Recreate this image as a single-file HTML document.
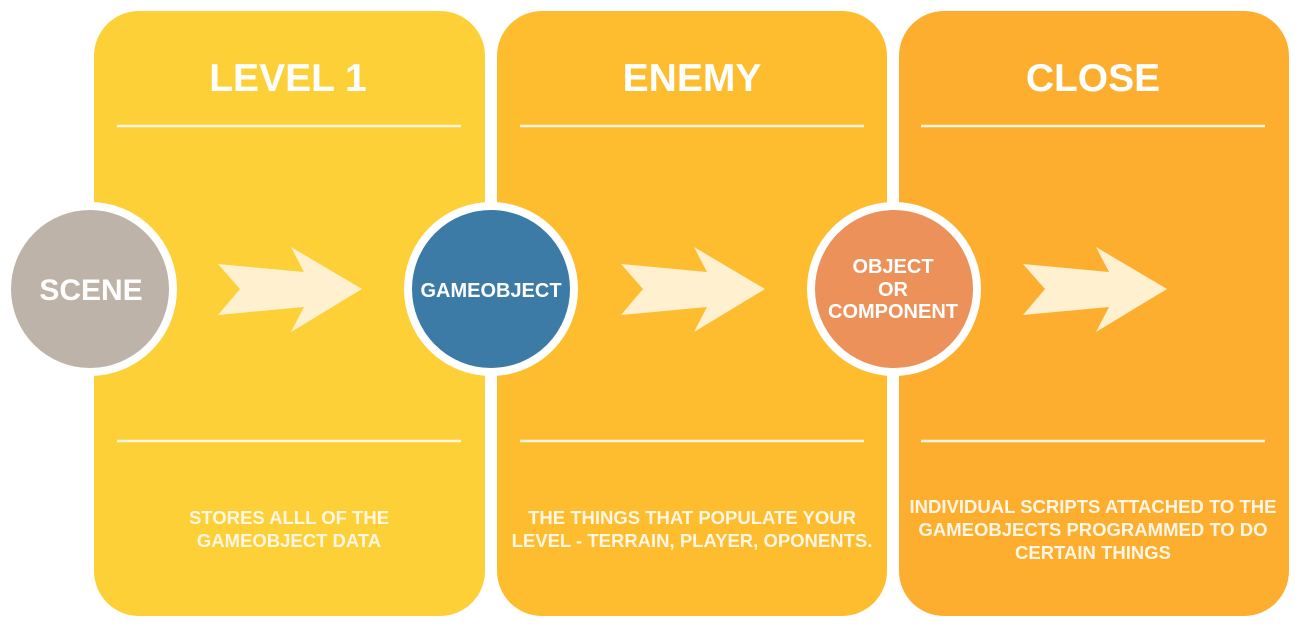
<!DOCTYPE html>
<html><head><meta charset="utf-8"><style>
html,body{margin:0;padding:0;background:#fff;}
svg{display:block;}
text{font-family:"Liberation Sans",Arial,sans-serif;font-weight:bold;}
</style></head><body>
<svg width="1300" height="634" viewBox="0 0 1300 634" xmlns="http://www.w3.org/2000/svg">
<rect x="94" y="11" width="391" height="605" rx="45" fill="#FDD037"/>
<rect x="497" y="11" width="390" height="605" rx="45" fill="#FDBD2E"/>
<rect x="899" y="11" width="390" height="605" rx="45" fill="#FDAE2E"/>
<g fill="#FFFFFF" font-size="39" text-anchor="middle">
<text x="288" y="91">LEVEL 1</text>
<text x="692" y="91">ENEMY</text>
<text x="1093" y="91">CLOSE</text>
</g>
<g stroke="#FFF6E0" stroke-width="2.5">
<line x1="117" y1="126" x2="461" y2="126"/><line x1="520" y1="126" x2="864" y2="126"/><line x1="921" y1="126" x2="1265" y2="126"/>
<line x1="117" y1="441" x2="461" y2="441"/><line x1="520" y1="441" x2="864" y2="441"/><line x1="921" y1="441" x2="1265" y2="441"/>
</g>
<g fill="#FFF1D0">
<polygon points="218,264 304,272 291,247 362,289 291,332 304,307 218,315 240,289"/>
<polygon transform="translate(403,0)" points="218,264 304,272 291,247 362,289 291,332 304,307 218,315 240,289"/>
<polygon transform="translate(805,0)" points="218,264 304,272 291,247 362,289 291,332 304,307 218,315 240,289"/>
</g>
<circle cx="90" cy="289" r="83" fill="#BDB3A9" stroke="#fff" stroke-width="8"/>
<circle cx="491" cy="289" r="83" fill="#3C7BA6" stroke="#fff" stroke-width="8"/>
<circle cx="894" cy="289" r="83" fill="#EC915A" stroke="#fff" stroke-width="8"/>
<g fill="#fff" text-anchor="middle">
<text x="91" y="300" font-size="30">SCENE</text>
<text x="491" y="297" font-size="20">GAMEOBJECT</text>
<text x="893" y="273" font-size="20">OBJECT</text>
<text x="893" y="296" font-size="20">OR</text>
<text x="893" y="318" font-size="20">COMPONENT</text>
</g>
<g fill="#FFF6E6" text-anchor="middle" font-size="18.5">
<text x="289" y="524">STORES ALLL OF THE</text>
<text x="289" y="547">GAMEOBJECT DATA</text>
<text x="692" y="524">THE THINGS THAT POPULATE YOUR</text>
<text x="692" y="547">LEVEL - TERRAIN, PLAYER, OPONENTS.</text>
<text x="1093" y="513">INDIVIDUAL SCRIPTS ATTACHED TO THE</text>
<text x="1093" y="536">GAMEOBJECTS PROGRAMMED TO DO</text>
<text x="1093" y="559">CERTAIN THINGS</text>
</g>
</svg>
</body></html>
